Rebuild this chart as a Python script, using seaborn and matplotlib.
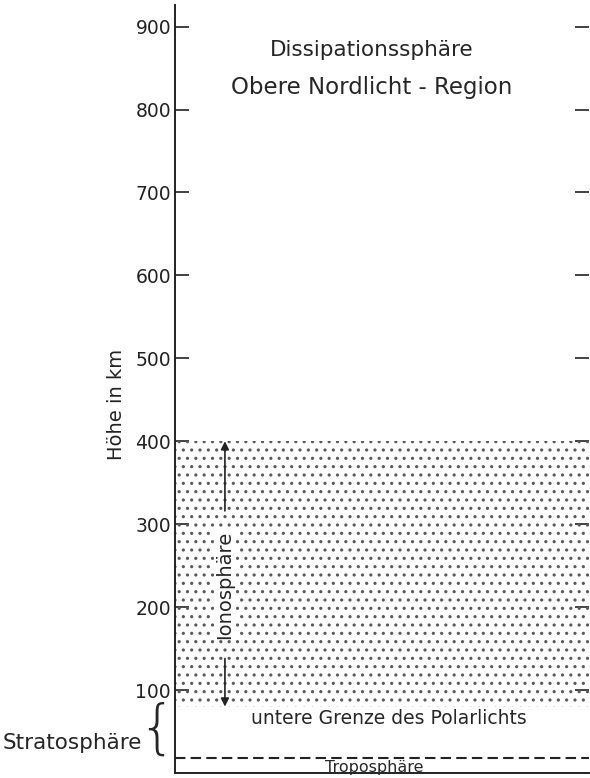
import matplotlib.pyplot as plt
import matplotlib.transforms as mtransforms
import seaborn as sns

# Schichten der Atmosphäre (Höhe in km)
ytick_values = [100, 200, 300, 400, 500, 600, 700, 800, 900]
ionosphere_bottom = 80
ionosphere_top = 400
tropopause = 18
y_max = 926

sns.set_theme(style='ticks')
plt.rcParams['font.family'] = ['DejaVu Sans']
plt.rcParams['hatch.linewidth'] = 1.1
plt.rcParams['hatch.color'] = '#5a5a5a'

fig = plt.figure(figsize=(5.9, 7.78), dpi=100)
ax = fig.add_axes([0.297, 0.0065, 0.702, 0.987])
ax.set_xlim(0, 1)
ax.set_ylim(0, y_max)

# Ionosphäre (punktiert)
ax.axhspan(ionosphere_bottom, ionosphere_top, facecolor='none', hatch='..',
           edgecolor='#5a5a5a', linewidth=0)

# Tropopause
ax.axhline(tropopause, color='#222222', lw=1.5, ls=(0, (5, 2.5)))

# Achsen
for s in ['top', 'right']:
    ax.spines[s].set_visible(False)
ax.spines['left'].set_linewidth(1.4)
ax.spines['bottom'].set_linewidth(1.4)
ax.spines['left'].set_color('#222222')
ax.spines['bottom'].set_color('#222222')
ax.set_yticks(ytick_values)
ax.set_xticks([])
ax.tick_params(axis='y', direction='in', length=10, width=1.2, right=True,
               labelsize=13.5, colors='#222222', pad=3)
ax.set_ylabel('Höhe in km', fontsize=14, color='#222222')
ax.yaxis.set_label_coords(-0.118, 0.48)

# Beschriftungen
ax.text(0.475, 872, 'Dissipationssphäre', ha='center', va='center', fontsize=15.5)
ax.text(0.475, 826, 'Obere Nordlicht - Region', ha='center', va='center', fontsize=16.5)
ax.text(0.516, 66, 'untere Grenze des Polarlichts', ha='center', va='center', fontsize=13.5)
ax.text(0.48, 6, 'Troposphäre', ha='center', va='center', fontsize=11.5)

# Ionosphäre-Pfeil mit Text
ion_mid = 227
ax.text(0.12, ion_mid, 'Ionosphäre', rotation=90, ha='center', va='center',
        fontsize=14, bbox=dict(facecolor='white', edgecolor='none', pad=1))
ax.annotate('', xy=(0.12, ionosphere_top), xytext=(0.12, 316),
            arrowprops=dict(arrowstyle='-|>', color='#222222', lw=1.2,
                            mutation_scale=12, shrinkA=0, shrinkB=0))
ax.annotate('', xy=(0.12, ionosphere_bottom), xytext=(0.12, 138),
            arrowprops=dict(arrowstyle='-|>', color='#222222', lw=1.2,
                            mutation_scale=12, shrinkA=0, shrinkB=0))

# Stratosphäre mit Klammer
trans = mtransforms.blended_transform_factory(ax.transAxes, ax.transData)
ax.text(-0.045, (ionosphere_bottom + tropopause) / 2 + 2, '{', transform=trans,
        ha='center', va='center', fontsize=42, fontweight='light', clip_on=False)
ax.text(-0.08, 36, 'Stratosphäre', transform=trans, ha='right', va='center',
        fontsize=15.5, clip_on=False)

fig.savefig('out.png', dpi=100)
